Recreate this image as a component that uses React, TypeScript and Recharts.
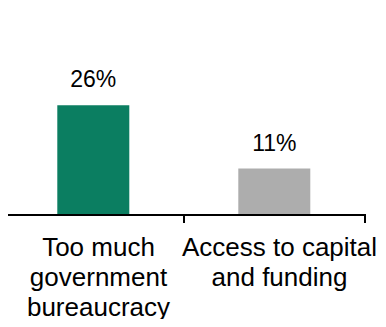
import { BarChart, Bar, XAxis, YAxis, Cell, LabelList } from "recharts";

// categories and values
const categories = ["Too much government bureaucracy", "Access to capital and funding"];
const tickLines = [
  ["Too much", "government", "bureaucracy"],
  ["Access to capital", "and funding"],
];
const values = [26, 11];
const colors = ["#0B7E61", "#ADADAD"];

const data = categories.map((name, i) => ({ name, value: values[i] }));

// multi-line label plus tick marks at the band edges (from the band scale's offset)
const CategoryTick = ({ x, y, index, payload }: any) => {
  const lines = tickLines[index] || [];
  const half = payload?.offset ?? 0;
  return (
    <g>
      <line x1={x - half} x2={x - half} y1={y - 11} y2={y - 2} stroke="#000" strokeWidth={2} />
      <line x1={x + half} x2={x + half} y1={y - 11} y2={y - 2} stroke="#000" strokeWidth={2} />
      <text
        x={x + 5}
        y={y}
        textAnchor="middle"
        fontFamily="'Liberation Sans', Arial, sans-serif"
        fontSize={26}
        fill="#000"
      >
        {lines.map((line, i) => (
          <tspan key={i} x={x + 5} dy={i === 0 ? 31 : 30}>
            {line}
          </tspan>
        ))}
      </text>
    </g>
  );
};

export default function App() {
  return (
    <div style={{ margin: -8, width: 386, height: 327, background: "#fff" }}>
      <BarChart
        width={386}
        height={327}
        data={data}
        margin={{ top: 46, right: 21, bottom: 0, left: 3 }}
        barCategoryGap="30%"
      >
        <XAxis
          dataKey="name"
          axisLine={{ stroke: "#000", strokeWidth: 2 }}
          tickLine={false}
          tickSize={8}
          height={112}
          interval={0}
          tick={<CategoryTick />}
        />
        <YAxis hide domain={[0, 40]} />
        <Bar dataKey="value" isAnimationActive={false}>
          {data.map((d, i) => (
            <Cell key={i} fill={colors[i]} />
          ))}
          <LabelList
            dataKey="value"
            position="top"
            offset={18}
            formatter={(v: any) => `${v}%`}
            style={{ fontFamily: "'Liberation Sans', Arial, sans-serif", fontSize: 23, fill: "#000" }}
          />
        </Bar>
      </BarChart>
    </div>
  );
}
